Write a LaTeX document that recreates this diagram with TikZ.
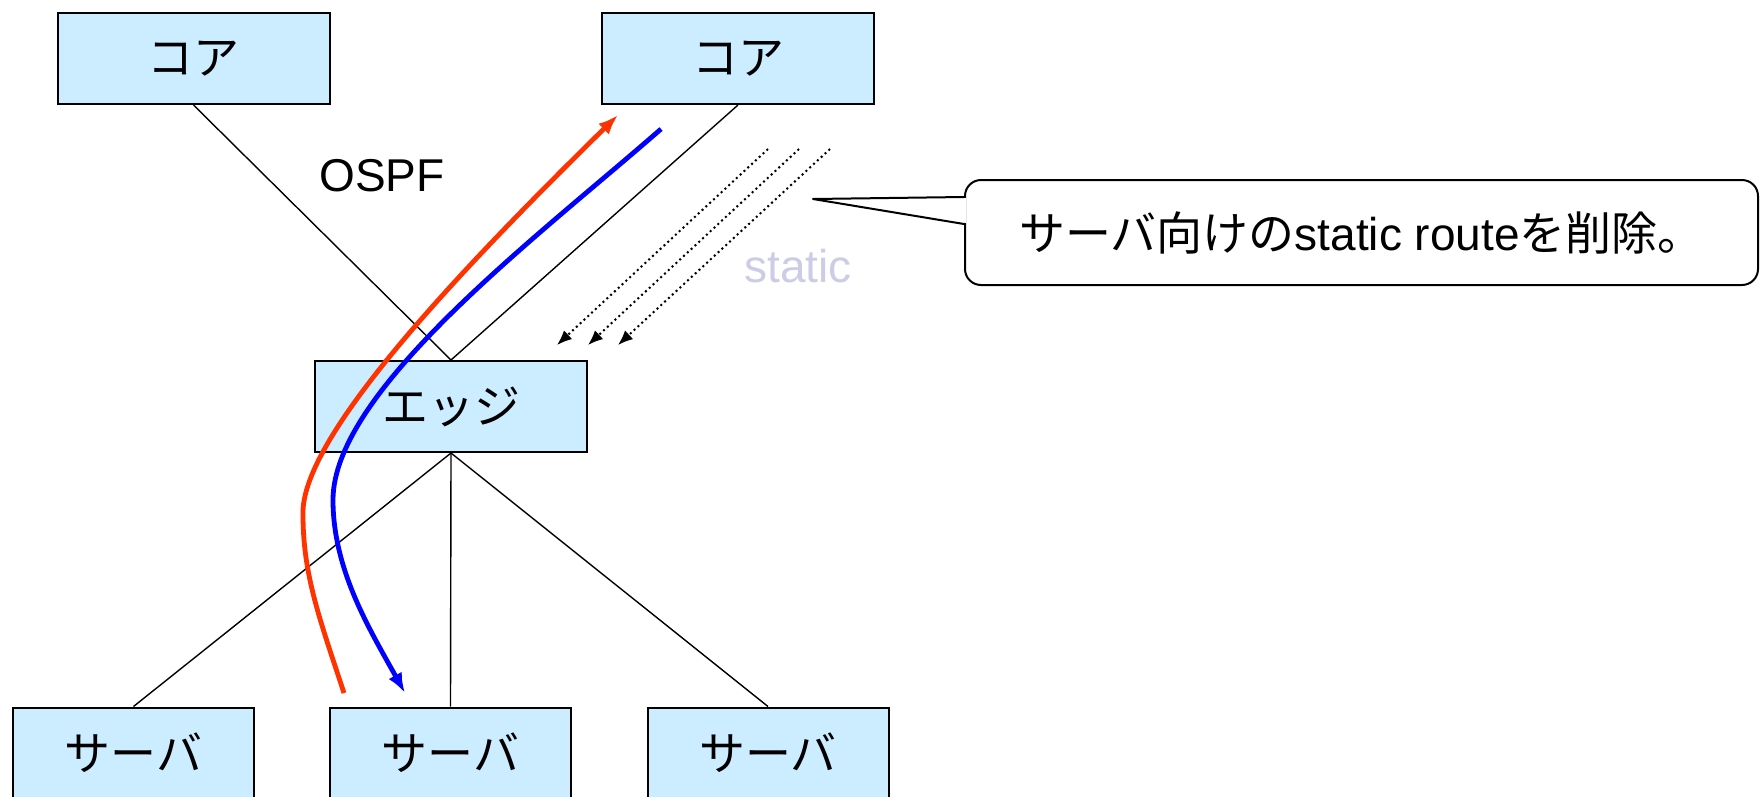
\documentclass[tikz,border=0pt]{standalone}
\usepackage{fontspec}
\setmainfont{Liberation Sans}
\newfontfamily\jpfont{Noto Sans CJK JP}
\usetikzlibrary{arrows.meta}
\definecolor{boxblue}{HTML}{CCECFF}
\definecolor{pathred}{HTML}{FF3300}
\definecolor{pathblue}{HTML}{0000FF}
\definecolor{statgray}{HTML}{CCCCE6}

\begin{document}
\begin{tikzpicture}[x=1pt, y=-1pt, font=\fontsize{46}{55}\selectfont,
    box/.style={draw, line width=2pt, fill=boxblue, minimum width=272pt, minimum height=91pt, inner sep=0pt},
    srvbox/.style={box, minimum width=241pt},
    link/.style={line width=1.4pt},
    flow/.style={line width=4.8pt, -{Latex[length=20pt,width=15pt]}},
    statarrow/.style={line width=2pt, dash pattern=on 2pt off 3.2pt, -{Latex[length=15pt,width=12pt]}},
    callout/.style={draw, line width=2pt, fill=white, rounded corners=16pt, minimum width=793pt, minimum height=105pt}]
    \useasboundingbox (0,0) rectangle (1762,796);
    % devices
    \node[box] (core1) at (193.5,58.5) {\jpfont コア};
    \node[box] (core2) at (738,58.5) {\jpfont コア};
    \node[box] (edge) at (451,406.5) {\jpfont エッジ};
    \node[srvbox] (srv1) at (133.5,753) {\jpfont サーバ};
    \node[srvbox] (srv2) at (450.5,753) {\jpfont サーバ};
    \node[srvbox] (srv3) at (768,753) {\jpfont サーバ};
    \draw[link] (core1.south) -- (edge.north);
    \draw[link] (core2.south) -- (edge.north);
    \draw[link] (edge.south) -- (srv1.north);
    \draw[link] (edge.south) -- (srv2.north);
    \draw[link] (edge.south) -- (srv3.north);
    \node (ospf) at (382,176) {OSPF};
    \node[text=statgray] (static) at (798,266) {static};
    % traffic
    \coordinate (redstart) at (344,693);
    \coordinate (redend) at (618,115);
    \coordinate (bluestart) at (661,129);
    \coordinate (blueend) at (405,693);
    \draw[flow, pathred] (redstart) .. controls (320,620) and (303,575) .. (303,515)
        .. controls (300,440) and (450,280) .. (redend);
    \draw[flow, pathblue] (bluestart) .. controls (540,235) and (333,390) .. (333,500)
        .. controls (333,570) and (370,630) .. (blueend);
    % static routes
    \coordinate (sa1) at (768,149); \coordinate (sb1) at (557,345);
    \coordinate (sa2) at (799,149); \coordinate (sb2) at (588,345);
    \coordinate (sa3) at (830,149); \coordinate (sb3) at (618,345);
    \draw[statarrow] (sa1) -- (sb1);
    \draw[statarrow] (sa2) -- (sb2);
    \draw[statarrow] (sa3) -- (sb3);
    % note
    \node[callout] (note) at (1361.5,232.5) {{\jpfont サーバ向けの}static route{\jpfont を削除。}};
    \coordinate (tip) at (813,199);
    \fill[white] ([xshift=2pt,yshift=34.5pt]note.west) -- (tip) -- ([xshift=2pt,yshift=9.5pt]note.west) -- cycle;
    \draw[line width=2pt, line join=round] ([yshift=35.5pt]note.west) -- (tip) -- ([yshift=8.5pt]note.west);
\end{tikzpicture}
\end{document}
